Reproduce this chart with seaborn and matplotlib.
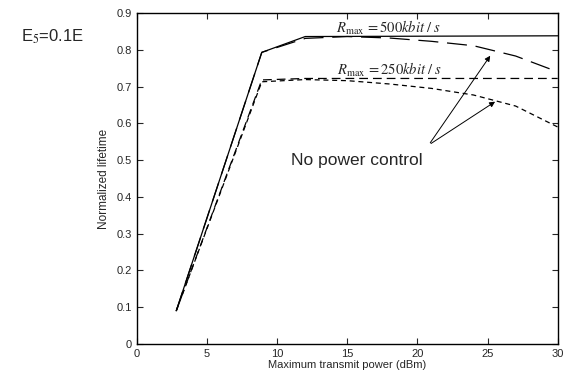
import matplotlib
matplotlib.use("Agg")
import matplotlib.pyplot as plt
import numpy as np
import pandas as pd
import seaborn as sns

# values
x_pc = [2.8, 8.9, 12.0, 30.0]
y_500_pc = [0.09, 0.793, 0.836, 0.838]
y_250_pc = [0.09, 0.718, 0.722, 0.722]

x_nopc = [2.8, 8.9, 12.0, 15.0, 18.0, 21.0, 24.0, 27.0, 30.0]
y_500_nopc = [0.09, 0.793, 0.831, 0.836, 0.832, 0.823, 0.811, 0.783, 0.74]
y_250_nopc = [0.09, 0.713, 0.719, 0.716, 0.707, 0.695, 0.677, 0.647, 0.59]

frames = [
    pd.DataFrame({"power": x_pc, "lifetime": y_500_pc, "curve": "500 pc"}),
    pd.DataFrame({"power": x_nopc, "lifetime": y_500_nopc, "curve": "500 nopc"}),
    pd.DataFrame({"power": x_pc, "lifetime": y_250_pc, "curve": "250 pc"}),
    pd.DataFrame({"power": x_nopc, "lifetime": y_250_nopc, "curve": "250 nopc"}),
]
df = pd.concat(frames, ignore_index=True)

sns.set_style("ticks")
plt.rcParams["font.family"] = ["Liberation Sans", "DejaVu Sans"]
plt.rcParams["mathtext.fontset"] = "stix"

fig = plt.figure(figsize=(5.63, 3.78), dpi=100)
ax = fig.add_axes([0.2433, 0.09, 0.7473, 0.8756])

sns.lineplot(
    data=df,
    x="power",
    y="lifetime",
    hue="curve",
    style="curve",
    palette={c: "black" for c in df["curve"].unique()},
    dashes={"500 pc": "", "500 nopc": (16, 7), "250 pc": (7, 4), "250 nopc": (4, 3)},
    linewidth=0.9,
    sort=False,
    legend=False,
    ax=ax,
)

ax.set_xlim(0, 30)
ax.set_ylim(0, 0.9)
ax.set_xticks(np.arange(0, 31, 5))
ax.set_yticks(np.round(np.arange(0, 0.91, 0.1), 1))
ax.set_yticklabels(["0", "0.1", "0.2", "0.3", "0.4", "0.5", "0.6", "0.7", "0.8", "0.9"])
ax.tick_params(direction="in", top=True, right=True, labelsize=8, length=4, width=0.8)
for s in ax.spines.values():
    s.set_visible(True)
    s.set_linewidth(1.0)
    s.set_color("black")

ax.set_xlabel("Maximum transmit power (dBm)", fontsize=8, labelpad=1)
ax.set_ylabel("Normalized lifetime", fontsize=8.5, labelpad=5)

ax.text(17.9, 0.859, r"$R_{\mathrm{max}}\,=500kbit\;/\;s$", fontsize=10.5, ha="center", va="center")
ax.text(18.0, 0.745, r"$R_{\mathrm{max}}\,=250kbit\;/\;s$", fontsize=10.5, ha="center", va="center")

ax.text(15.7, 0.5, "No power control", fontsize=12.5, ha="center", va="center")
ax.annotate("", xy=(25.3, 0.79), xytext=(20.8, 0.541),
            arrowprops=dict(arrowstyle="-|>", color="black", lw=0.7, mutation_scale=8))
ax.annotate("", xy=(25.7, 0.663), xytext=(20.8, 0.541),
            arrowprops=dict(arrowstyle="-|>", color="black", lw=0.7, mutation_scale=8))

fig.text(21 / 563, 1 - 37 / 378, r"E$_5$=0.1E", fontsize=12, ha="left", va="center")

fig.savefig("out.png", dpi=100)
